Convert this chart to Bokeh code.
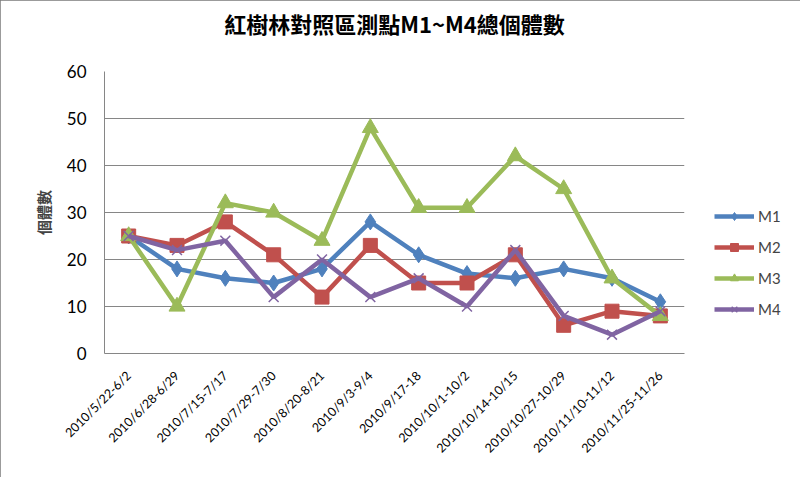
from math import pi
from bokeh.plotting import figure
from bokeh.models import (Legend, LegendItem, FactorRange, Range1d, FixedTicker,
                          InlineStyleSheet, Title)
from bokeh.embed import file_html
from bokeh.resources import INLINE

periods = ["2010/5/22-6/2", "2010/6/28-6/29", "2010/7/15-7/17", "2010/7/29-7/30",
           "2010/8/20-8/21", "2010/9/3-9/4", "2010/9/17-18", "2010/10/1-10/2",
           "2010/10/14-10/15", "2010/10/27-10/29", "2010/11/10-11/12", "2010/11/25-11/26"]
m1 = [25, 18, 16, 15, 18, 28, 21, 17, 16, 18, 16, 11]
m2 = [25, 23, 28, 21, 12, 23, 15, 15, 21, 6, 9, 8]
m3 = [25, 10, 32, 30, 24, 48, 31, 31, 42, 35, 16, 8]
m4 = [25, 22, 24, 12, 20, 12, 16, 10, 22, 8, 4, 9]
y_ticks = [0, 10, 20, 30, 40, 50, 60]

p = figure(x_range=FactorRange(*periods, range_padding=0),
           y_range=Range1d(0, 60), output_backend="svg", toolbar_location=None,
           min_border_left=104, min_border_right=116, min_border_top=71, min_border_bottom=124,
           title="紅樹林對照區測點M1~M4總個體數")
p.frame_width = 580
p.frame_height = 282
p.x_range.range_padding = 0
p.outline_line_color = None
p.background_fill_color = "white"
p.border_fill_color = "white"
p.stylesheets = [InlineStyleSheet(css=":host { outline: 2px solid #7a7a7a; outline-offset: -2px; }")]

p.title.align = "center"
p.title.text_font = "Noto Sans CJK TC"
p.title.text_font_size = "22px"
p.title.text_font_style = "bold"
p.title.text_color = "#000000"
p.title.standoff = 0

# spacer between title and plot area
p.add_layout(Title(text=" ", text_font_size="10px", standoff=20), "above")

p.xgrid.grid_line_color = None
p.ygrid.grid_line_color = "#868686"
p.ygrid.grid_line_width = 1

p.yaxis.ticker = FixedTicker(ticks=y_ticks)
p.yaxis.axis_label = "個體數"
p.yaxis.axis_label_text_font = "Noto Sans CJK TC"
p.yaxis.axis_label_text_font_size = "15px"
p.yaxis.axis_label_text_font_style = "bold"
p.yaxis.axis_label_standoff = 10
p.yaxis.major_label_text_font = "Lato"
p.yaxis.major_label_text_font_size = "17px"
p.yaxis.major_label_standoff = 12

for ax in (p.xaxis, p.yaxis):
    ax.axis_line_color = "#868686"
    ax.major_tick_line_color = None
    ax.minor_tick_line_color = None
    ax.major_label_text_color = "#000000"

p.xaxis.major_label_orientation = pi / 4
p.xaxis.major_label_text_font = "Lato"
p.xaxis.major_label_text_font_size = "12.5px"
p.xaxis.major_label_standoff = 14

series = [
    ("M1", m1, "#4F81BD", "diamond", 16),
    ("M2", m2, "#C0504D", "square", 14),
    ("M3", m3, "#9BBB59", "triangle", 16),
    ("M4", m4, "#8064A2", "x", 14),
]
items = []
for name, vals, col, mk, sz in series:
    lr = p.line(periods, vals, line_color=col, line_width=4.5)
    if mk == "x":
        sr = p.scatter(periods, vals, marker=mk, size=sz, line_color=col, line_width=1.5)
    else:
        sr = p.scatter(periods, vals, marker=mk, size=sz, fill_color=col, line_color=col)
    items.append(LegendItem(label=name, renderers=[lr, sr]))

legend = Legend(items=items, location=(30, 34), padding=0, margin=0,
                glyph_width=40, glyph_height=20, label_height=20, spacing=11,
                label_text_font="Lato", label_text_font_size="15px",
                label_standoff=4, border_line_color=None, background_fill_alpha=0)
p.add_layout(legend, "right")

open("out.html", "w").write(file_html(p, INLINE))
